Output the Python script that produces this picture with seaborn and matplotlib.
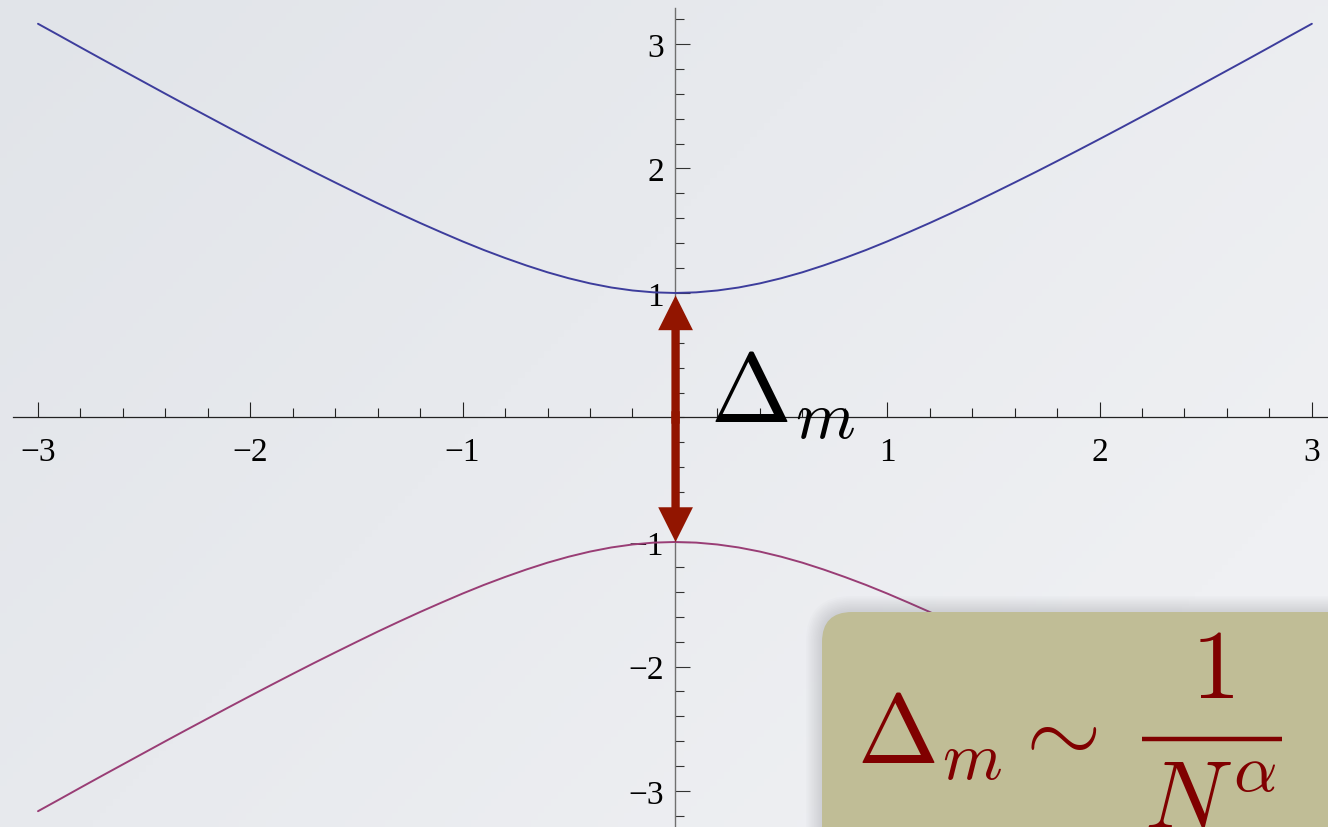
import numpy as np
import pandas as pd
import matplotlib
matplotlib.use("Agg")
import matplotlib.pyplot as plt
import seaborn as sns
from matplotlib.patches import FancyBboxPatch, FancyArrowPatch
from matplotlib.lines import Line2D
from matplotlib.ticker import FixedLocator, MultipleLocator

# Two branches of the energy spectrum, sampled every 0.1 in x
x_vals = [-3.0, -2.9, -2.8, -2.7, -2.6, -2.5, -2.4, -2.3, -2.2, -2.1,
          -2.0, -1.9, -1.8, -1.7, -1.6, -1.5, -1.4, -1.3, -1.2, -1.1,
          -1.0, -0.9, -0.8, -0.7, -0.6, -0.5, -0.4, -0.3, -0.2, -0.1,
          0.0,
          0.1, 0.2, 0.3, 0.4, 0.5, 0.6, 0.7, 0.8, 0.9, 1.0,
          1.1, 1.2, 1.3, 1.4, 1.5, 1.6, 1.7, 1.8, 1.9, 2.0,
          2.1, 2.2, 2.3, 2.4, 2.5, 2.6, 2.7, 2.8, 2.9, 3.0]
upper_branch = [3.162, 3.068, 2.973, 2.879, 2.786, 2.693, 2.600, 2.508, 2.417, 2.326,
                2.236, 2.147, 2.059, 1.972, 1.887, 1.803, 1.720, 1.640, 1.562, 1.487,
                1.414, 1.345, 1.281, 1.221, 1.166, 1.118, 1.077, 1.044, 1.020, 1.005,
                1.000,
                1.005, 1.020, 1.044, 1.077, 1.118, 1.166, 1.221, 1.281, 1.345, 1.414,
                1.487, 1.562, 1.640, 1.720, 1.803, 1.887, 1.972, 2.059, 2.147, 2.236,
                2.326, 2.417, 2.508, 2.600, 2.693, 2.786, 2.879, 2.973, 3.068, 3.162]
lower_branch = [-3.162, -3.068, -2.973, -2.879, -2.786, -2.693, -2.600, -2.508, -2.417, -2.326,
                -2.236, -2.147, -2.059, -1.972, -1.887, -1.803, -1.720, -1.640, -1.562, -1.487,
                -1.414, -1.345, -1.281, -1.221, -1.166, -1.118, -1.077, -1.044, -1.020, -1.005,
                -1.000,
                -1.005, -1.020, -1.044, -1.077, -1.118, -1.166, -1.221, -1.281, -1.345, -1.414,
                -1.487, -1.562, -1.640, -1.720, -1.803, -1.887, -1.972, -2.059, -2.147, -2.236,
                -2.326, -2.417, -2.508, -2.600, -2.693, -2.786, -2.879, -2.973, -3.068, -3.162]

x_tick_values = [-3, -2, -1, 1, 2, 3]
x_tick_labels = ["\u22123", "\u22122", "\u22121", "1", "2", "3"]
y_tick_values = [-3, -2, -1, 1, 2, 3]
y_tick_labels = ["\u22123", "\u22122", "\u22121", "1", "2", "3"]

gap_label = r"$\Delta_m$"
formula_lhs = r"$\Delta_m \sim$"
formula_num = r"$1$"
formula_den = r"$N^\alpha$"

sns.set_style("white")
plt.rcParams["font.family"] = ["Liberation Serif", "DejaVu Serif"]
plt.rcParams["mathtext.fontset"] = "cm"
plt.rcParams["axes.unicode_minus"] = True

W, H = 1328, 828
fig = plt.figure(figsize=(W / 100, H / 100), dpi=100)

# soft slide background
bg = fig.add_axes([0, 0, 1, 1], zorder=0)
gx, gy = np.meshgrid(np.linspace(0, 1, 200), np.linspace(0, 1, 120))
t = np.clip(0.75 * gx + 0.45 * gy, 0, 1)
c0 = np.array([225, 228, 233]) / 255.0
c1 = np.array([239, 240, 243]) / 255.0
img = c0[None, None, :] * (1 - t[..., None]) + c1[None, None, :] * t[..., None]
bg.imshow(img, aspect="auto", extent=[0, 1, 0, 1], origin="upper")
bg.set_axis_off()

ax = fig.add_axes([0, 0, 1, 1], zorder=1)
ax.set_facecolor("none")

df = pd.DataFrame({"x": x_vals, "upper": upper_branch, "lower": lower_branch})
sns.lineplot(data=df, x="x", y="upper", ax=ax, color="#3d3d9c", lw=1.4,
             estimator=None, sort=False, zorder=3)
sns.lineplot(data=df, x="x", y="lower", ax=ax, color="#993d75", lw=1.4,
             estimator=None, sort=False, zorder=3)

ax.set_xlim(-3.179, 3.076)
ax.set_ylim(-3.289, 3.361)
ax.set_xlabel("")
ax.set_ylabel("")

# axes through the origin
for s in ("top", "right"):
    ax.spines[s].set_visible(False)
ax.spines["left"].set_position(("data", 0))
ax.spines["bottom"].set_position(("data", 0))
ax.spines["bottom"].set_bounds(-3.12, 3.2)
ax.spines["left"].set_bounds(-3.4, 3.29)
ax.spines["bottom"].set_color("#222222")
ax.spines["left"].set_color("#707070")
ax.spines["bottom"].set_linewidth(0.9)
ax.spines["left"].set_linewidth(1.0)

ax.xaxis.set_major_locator(FixedLocator(x_tick_values))
ax.set_xticklabels(x_tick_labels)
ax.yaxis.set_major_locator(FixedLocator(y_tick_values))
ax.set_yticklabels(y_tick_labels)
ax.xaxis.set_minor_locator(MultipleLocator(0.2))
ax.yaxis.set_minor_locator(MultipleLocator(0.2))

ax.tick_params(axis="x", which="both", bottom=True, top=False)
ax.tick_params(axis="y", which="both", left=True, right=False)
ax.tick_params(axis="x", which="major", direction="in", length=10.8, width=0.8,
               color="#222222", labelsize=24, pad=14, labelcolor="black")
ax.tick_params(axis="x", which="minor", direction="in", length=6.5, width=0.8,
               color="#222222")
ax.tick_params(axis="y", which="major", direction="in", length=10.8, width=0.8,
               color="#333333", labelsize=24, pad=8, labelcolor="black")
ax.tick_params(axis="y", which="minor", direction="in", length=6.5, width=0.8,
               color="#333333")

# double arrow spanning the gap between the branches at x = 0
i0 = x_vals.index(0.0)
top, bot = upper_branch[i0], lower_branch[i0]
mid = 0.5 * (top + bot)
arrow_kw = dict(arrowstyle="simple,head_length=1.25,head_width=1.25,tail_width=0.3",
                mutation_scale=20, color="#921500", lw=0, shrinkA=0, shrinkB=0,
                zorder=6)
ax.add_patch(FancyArrowPatch((0.003, mid - 0.05), (0.003, top - 0.02), **arrow_kw))
ax.add_patch(FancyArrowPatch((0.003, mid + 0.05), (0.003, bot), **arrow_kw))

ax.text(0.165, -0.03, gap_label, fontsize=70, color="black", ha="left",
        va="baseline", zorder=7)

# callout box in the lower right corner
bx, by = 822 / W, (H - 613) / H
bw, bh = 0.5, by + 0.2
aspect = W / H
for k in range(10, 0, -1):
    grow = k * 1.6
    sh = FancyBboxPatch((bx - grow / W, by - bh), bw + grow / W, bh + grow / H,
                        boxstyle=f"round,pad=0,rounding_size={(30 + grow) / W}",
                        mutation_aspect=aspect, transform=fig.transFigure,
                        facecolor="#6a6c74", edgecolor="none", alpha=0.018,
                        clip_on=False, zorder=8)
    ax.add_patch(sh)
box = FancyBboxPatch((bx, by - bh), bw, bh,
                     boxstyle=f"round,pad=0,rounding_size={30 / W}",
                     mutation_aspect=aspect, transform=fig.transFigure,
                     facecolor="#c0bd96", edgecolor="none", clip_on=False, zorder=9)
ax.add_patch(box)

formula_color = "#800000"
fig.text(857 / W, (H - 763) / H, formula_lhs, fontsize=70, color=formula_color,
         ha="left", va="baseline", zorder=10)
fig.text(1212 / W, (H - 698) / H, formula_num, fontsize=70, color=formula_color,
         ha="center", va="baseline", zorder=10)
fig.text(1210 / W, (H - 829) / H, formula_den, fontsize=70, color=formula_color,
         ha="center", va="baseline", zorder=10)
fig.add_artist(Line2D([1142 / W, 1282 / W], [(H - 740) / H, (H - 740) / H],
                      transform=fig.transFigure, color=formula_color, lw=3.2,
                      solid_capstyle="butt", zorder=10))

fig.savefig("out.png", dpi=100)
